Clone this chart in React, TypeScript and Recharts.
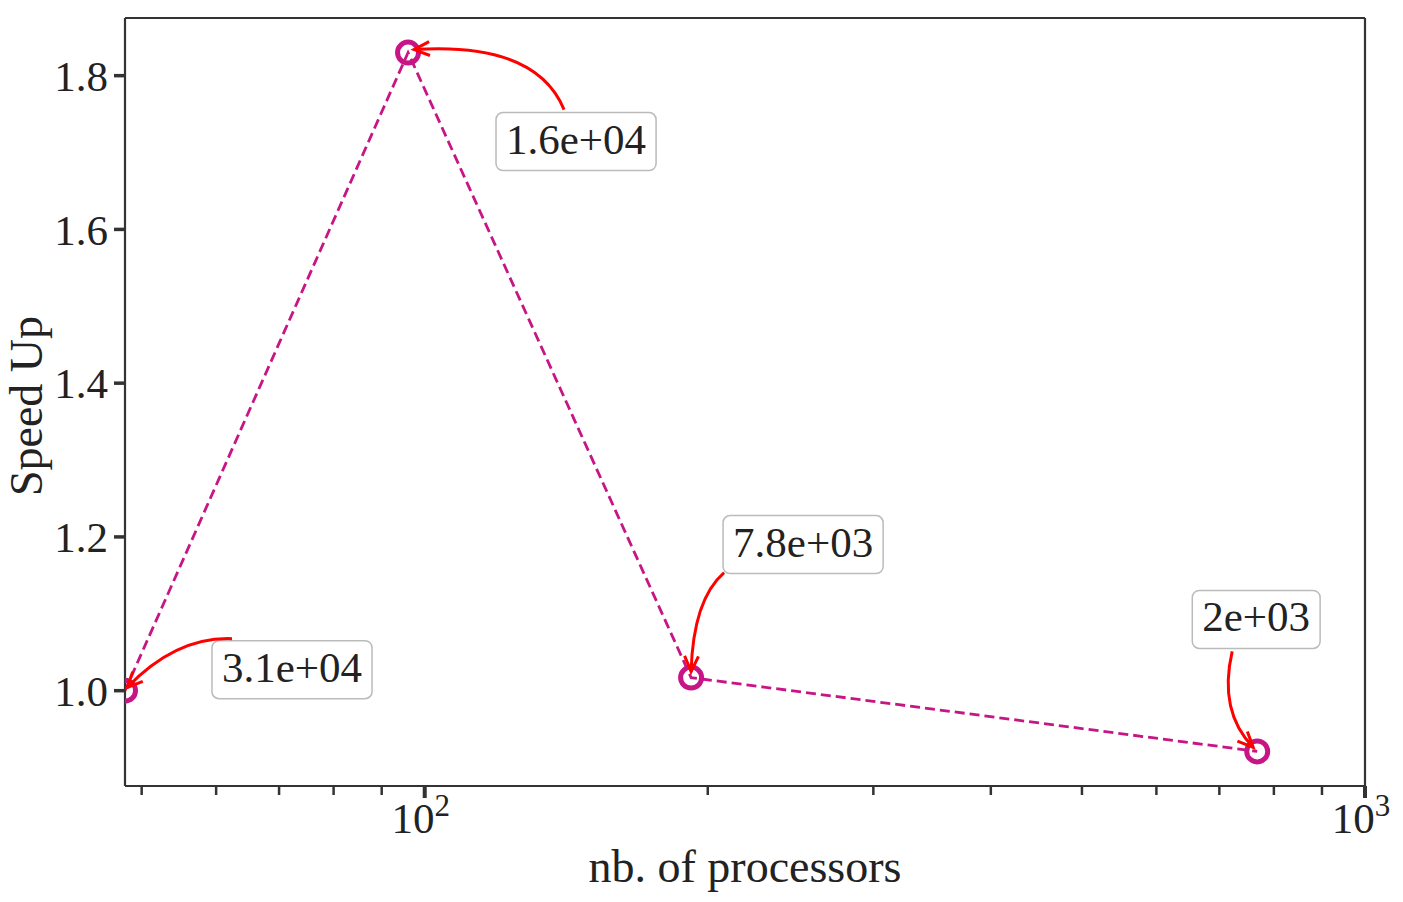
import React from "react";
import { LineChart, Line, XAxis, YAxis, Label, ReferenceLine } from "recharts";

const processors = [48, 96, 192, 768];
const speedUp = [1.0, 1.83, 1.017, 0.921];
const timeLabels = ["3.1e+04", "1.6e+04", "7.8e+03", "2e+03"];

const xTicks = [50, 60, 70, 80, 90, 100, 200, 300, 400, 500, 600, 700, 800, 900, 1000];
const majorTicks = [100, 1000];
const yTicks = [1.0, 1.2, 1.4, 1.6, 1.8];
const xDomain = [48, 1000];
const yDomain = [0.876, 1.875];

// annotation offsets in pixels, relative to the annotated point
const annotLayout = [
  { text: [167, -21], start: [107, -52], ctrl: [51, -54], end: [2, -3] },
  { text: [168, 89], start: [156, 57], ctrl: [128, -11], end: [6, -3] },
  { text: [112, -133], start: [33, -105], ctrl: [2, -78], end: [0, -6] },
  { text: [-1, -132], start: [-25, -100], ctrl: [-39, -40], end: [-4, -4] },
];

const data = processors.map((p, i) => ({ p, s: speedUp[i], label: timeLabels[i] }));

const FONT = "'Liberation Serif', 'DejaVu Serif', serif";
const LINE_COLOR = "#C71585";
const AXIS_COLOR = "#333";

function measure(text: string, size: number) {
  const c = document.createElement("canvas").getContext("2d");
  if (!c) return text.length * size * 0.5;
  c.font = `${size}px ${FONT}`;
  return c.measureText(text).width;
}

function XTick(props: any) {
  const { x, y, payload } = props;
  const major = majorTicks.includes(payload.value);
  return (
    <g>
      <line x1={x} x2={x} y1={y} y2={y + (major ? 12 : 9)} stroke={AXIS_COLOR} strokeWidth={major ? 4 : 2.5} />
      {major && (
        <text x={x - 4} y={y + 47} textAnchor="middle" fontFamily={FONT} fontSize={43} fill="#222">
          10
          <tspan dy={-17} fontSize={31}>
            {Math.round(Math.log10(payload.value))}
          </tspan>
        </text>
      )}
    </g>
  );
}

function AnnotatedDot(props: any) {
  const { cx, cy, index } = props;
  if (cx == null || cy == null) return <g key={index} />;
  const a = annotLayout[index];
  const label = timeLabels[index];
  const fs = 43;
  const tw = measure(label, fs);
  const bw = tw + 20;
  const bh = 58;
  const tx = cx + a.text[0];
  const ty = cy + a.text[1];
  const sx = cx + a.start[0];
  const sy = cy + a.start[1];
  const qx = cx + a.ctrl[0];
  const qy = cy + a.ctrl[1];
  const ex = cx + a.end[0];
  const ey = cy + a.end[1];
  const ang = Math.atan2(ey - qy, ex - qx);
  const hl = 17;
  const spread = 0.42;
  const h1 = [ex - hl * Math.cos(ang - spread), ey - hl * Math.sin(ang - spread)];
  const h2 = [ex - hl * Math.cos(ang + spread), ey - hl * Math.sin(ang + spread)];
  return (
    <g key={index}>
      <circle cx={cx} cy={cy} r={10.5} fill="none" stroke={LINE_COLOR} strokeWidth={5} />
      <rect x={tx - bw / 2} y={ty - bh / 2} width={bw} height={bh} rx={7} fill="#fff" stroke="#bbb" strokeWidth={1.5} />
      <text x={tx} y={ty + 12} textAnchor="middle" fontFamily={FONT} fontSize={fs} fill="#222">
        {label}
      </text>
      <path d={`M${sx},${sy} Q${qx},${qy} ${ex},${ey}`} fill="none" stroke="#ff0000" strokeWidth={3} />
      <path
        d={`M${h1[0]},${h1[1]} L${ex},${ey} L${h2[0]},${h2[1]}`}
        fill="none"
        stroke="#ff0000"
        strokeWidth={3}
      />
    </g>
  );
}

export default function App() {
  return (
    <div style={{ position: "absolute", left: 0, top: 0, background: "#fff" }}>
      <LineChart width={1403} height={902} data={data} margin={{ top: 18, right: 38, left: 0, bottom: 0 }}>
        <XAxis
          dataKey="p"
          type="number"
          scale="log"
          domain={xDomain}
          ticks={xTicks}
          allowDataOverflow
          height={116}
          tickLine={false}
          tickSize={0}
          tickMargin={0}
          interval={0}
          tick={<XTick />}
          axisLine={{ stroke: AXIS_COLOR, strokeWidth: 2.2 }}
        >
          <Label value="nb. of processors" position="insideBottom" offset={20} fontFamily={FONT} fontSize={46} fill="#222" />
        </XAxis>
        <YAxis
          type="number"
          domain={yDomain}
          ticks={yTicks}
          allowDataOverflow
          width={125}
          tickSize={11}
          tickMargin={6}
          tickFormatter={(v: number) => v.toFixed(1)}
          tick={{ fontFamily: FONT, fontSize: 43, fill: "#222" }}
          tickLine={{ stroke: AXIS_COLOR, strokeWidth: 3.5 }}
          axisLine={{ stroke: AXIS_COLOR, strokeWidth: 2.2 }}
        >
          <Label
            content={(p: any) => {
              const vb = p.viewBox;
              const x = vb.x + 42;
              const y = vb.y + vb.height / 2 + 4;
              return (
                <text
                  x={x}
                  y={y}
                  transform={`rotate(-90 ${x} ${y})`}
                  textAnchor="middle"
                  fontFamily={FONT}
                  fontSize={46}
                  fill="#222"
                >
                  Speed Up
                </text>
              );
            }}
          />
        </YAxis>
        <ReferenceLine x={xDomain[1]} stroke={AXIS_COLOR} strokeWidth={2.2} ifOverflow="visible" />
        <ReferenceLine y={yDomain[1]} stroke={AXIS_COLOR} strokeWidth={2.2} ifOverflow="visible" />
        <Line
          dataKey="s"
          stroke={LINE_COLOR}
          strokeWidth={2.8}
          strokeDasharray="10 5"
          dot={(p: any) => <AnnotatedDot key={p.index} {...p} />}
          activeDot={false}
          isAnimationActive={false}
        />
      </LineChart>
    </div>
  );
}
